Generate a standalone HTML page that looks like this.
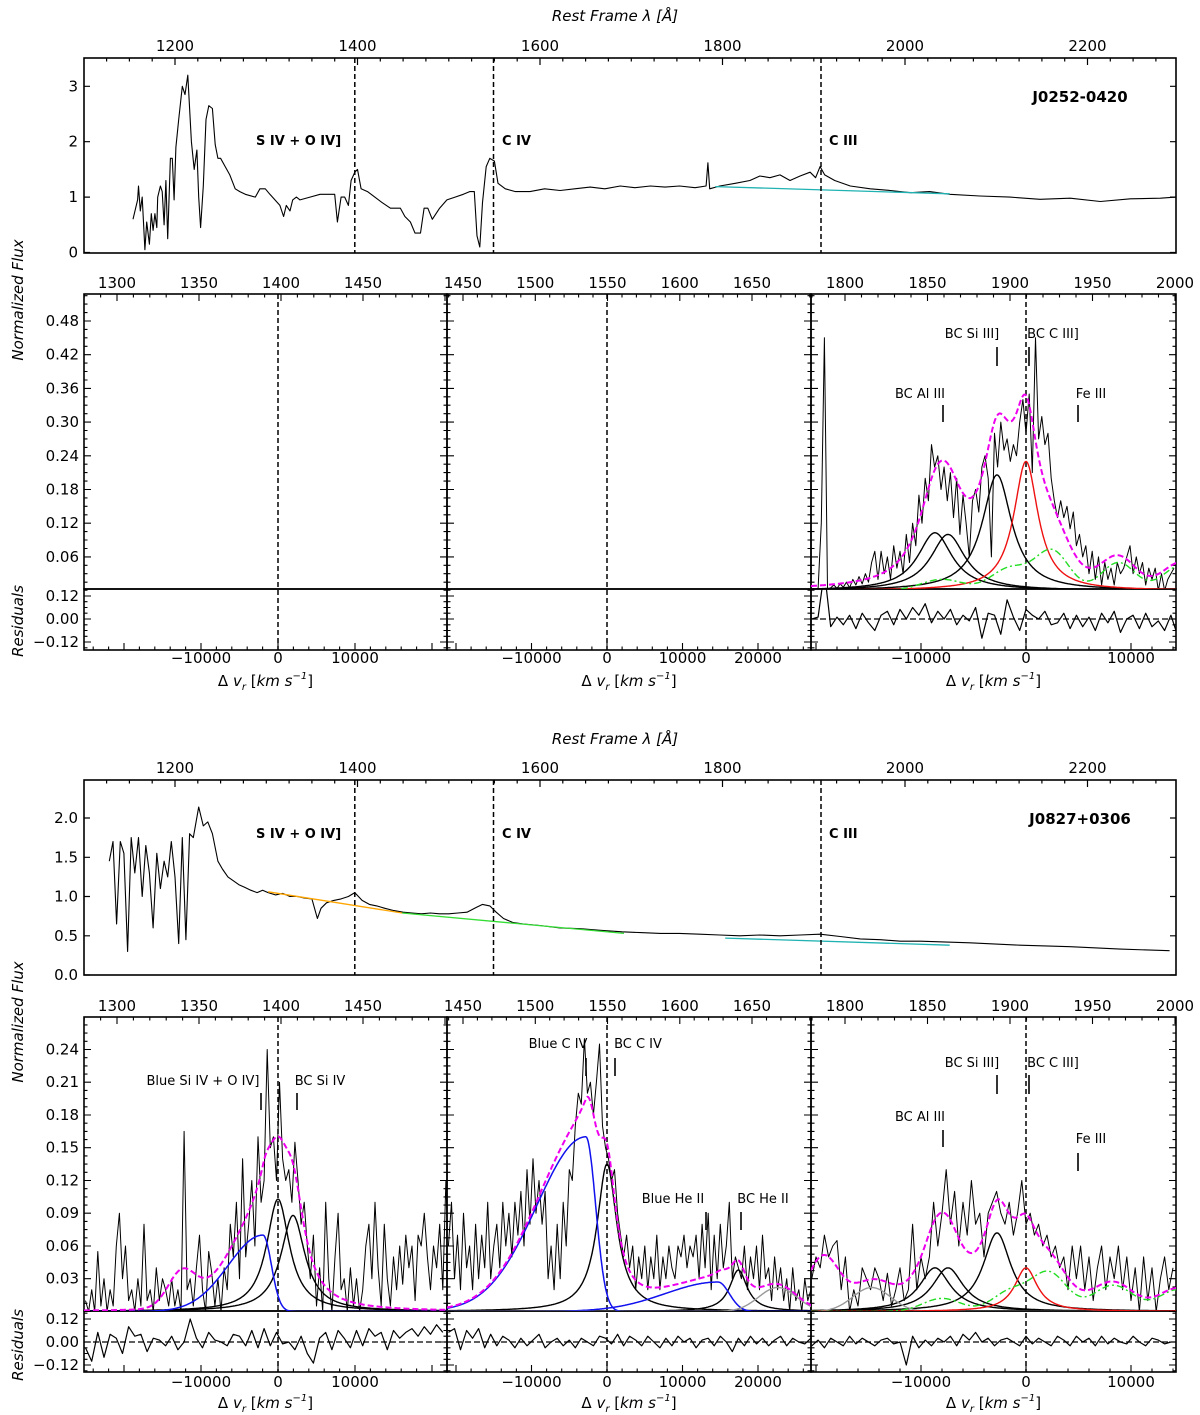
<!DOCTYPE html>
<html><head><meta charset="utf-8"><title>Spectral fits</title>
<style>
html,body{margin:0;padding:0;background:#fff;}
svg{display:block;font-family:"DejaVu Sans","Liberation Sans",sans-serif;}
text{fill:#000;}
</style></head>
<body>
<svg id="fig" width="1200" height="1415" viewBox="0 0 1200 1415" xmlns="http://www.w3.org/2000/svg">
<defs></defs>
<text x="615" y="21" font-size="15" font-style="italic" text-anchor="middle">Rest Frame λ [Å]</text>
<text x="615" y="744" font-size="15" font-style="italic" text-anchor="middle">Rest Frame λ [Å]</text>
<text transform="translate(23,300) rotate(-90)" font-size="15" font-style="italic" text-anchor="middle">Normalized Flux</text>
<text transform="translate(23,1022) rotate(-90)" font-size="15" font-style="italic" text-anchor="middle">Normalized Flux</text>
<text transform="translate(23,621) rotate(-90)" font-size="15" font-style="italic" text-anchor="middle">Residuals</text>
<text transform="translate(23,1345) rotate(-90)" font-size="15" font-style="italic" text-anchor="middle">Residuals</text>
<text x="1080" y="102" font-size="15" font-weight="bold" text-anchor="middle">J0252-0420</text>
<text x="1080" y="824" font-size="15" font-weight="bold" text-anchor="middle">J0827+0306</text>
<g font-size="13" font-weight="bold">
<text x="256" y="145">S IV + O IV]</text><text x="502" y="145">C IV</text><text x="829" y="145">C III</text></g>
<g font-size="13" font-weight="bold">
<text x="256" y="838">S IV + O IV]</text><text x="502" y="838">C IV</text><text x="829" y="838">C III</text></g>
<g id="layer"></g>
</svg>
<script>
// ---------- full spectrum data ----------
const lamA=[1154,1159,1160,1162,1164,1167,1169,1172,1174,1176,1178,1180,1181,1184,1186,1188,1190,1192,1195,1197,1199,1201,1204,1208,1211,1214,1218,1221,1224,1226,1228,1231,1234,1237,1241,1244,1247,1250,1255,1260,1266,1271,1277,1288,1293,1299,1304,1315,1319,1322,1326,1329,1333,1337,1348,1359,1364,1375,1378,1382,1386,1390,1393,1397,1400,1404,1411,1419,1427,1436,1441,1447,1452,1458,1463,1469,1473,1477,1482,1486,1490,1498,1507,1516,1523,1528,1531,1534,1537,1541,1545,1550,1554,1562,1573,1589,1605,1622,1638,1655,1671,1688,1704,1721,1737,1753,1770,1782,1784,1786,1797,1814,1830,1841,1852,1863,1874,1885,1896,1902,1907,1912,1923,1940,1962,1984,2006,2027,2049,2082,2115,2148,2181,2214,2247,2280,2297];
const fluxA=[0.6,0.95,1.2,0.75,1.0,0.05,0.55,0.15,0.7,0.4,0.7,0.45,1.0,1.2,1.1,0.5,1.3,0.25,1.7,1.7,0.95,1.9,2.4,3.0,2.85,3.2,2.0,1.5,1.85,1.0,0.45,1.2,2.4,2.65,2.6,1.95,1.7,1.7,1.55,1.4,1.15,1.1,1.05,1.0,1.15,1.15,1.05,0.85,0.65,0.85,0.75,0.95,1.0,0.95,1.0,1.05,1.05,1.05,0.55,1.0,1.0,0.85,1.3,1.45,1.5,1.15,1.1,1.0,0.9,0.8,0.8,0.8,0.65,0.55,0.35,0.35,0.8,0.8,0.6,0.7,0.8,0.95,1.0,1.05,1.1,1.1,0.3,0.1,0.9,1.55,1.7,1.65,1.25,1.15,1.1,1.1,1.15,1.12,1.15,1.18,1.15,1.2,1.17,1.2,1.18,1.2,1.17,1.2,1.62,1.15,1.2,1.25,1.3,1.38,1.35,1.4,1.3,1.38,1.45,1.35,1.55,1.4,1.3,1.2,1.15,1.12,1.08,1.1,1.05,1.02,1.0,0.96,0.98,0.92,0.97,0.98,1.0];
const contA_lam=[1792,2049];
const contA_flux=[1.19,1.06];
const lamB=[1128,1132,1136,1140,1144,1148,1152,1156,1160,1164,1168,1172,1176,1180,1184,1188,1192,1196,1200,1204,1208,1212,1216,1220,1226,1231,1236,1241,1247,1252,1258,1264,1270,1276,1283,1290,1296,1302,1310,1318,1326,1334,1342,1350,1356,1360,1366,1374,1382,1390,1397,1405,1413,1421,1430,1440,1450,1460,1470,1480,1490,1500,1510,1520,1530,1537,1545,1552,1560,1570,1582,1600,1622,1644,1666,1690,1710,1732,1753,1775,1797,1819,1841,1863,1885,1907,1929,1951,1973,1995,2017,2071,2126,2181,2236,2290];
const fluxB=[1.45,1.7,0.65,1.7,1.55,0.3,1.75,1.3,1.75,1.0,1.65,1.3,0.6,1.55,1.1,1.45,1.25,1.7,1.25,0.4,1.75,0.45,1.8,1.75,2.14,1.9,1.95,1.8,1.45,1.35,1.25,1.2,1.15,1.12,1.08,1.05,1.08,1.05,1.02,1.04,1.0,1.0,0.98,0.97,0.72,0.85,0.92,0.95,0.97,1.0,1.05,0.95,0.9,0.88,0.85,0.82,0.8,0.79,0.78,0.79,0.78,0.78,0.79,0.8,0.86,0.9,0.88,0.8,0.72,0.67,0.65,0.63,0.6,0.59,0.57,0.55,0.54,0.53,0.53,0.52,0.51,0.5,0.51,0.5,0.51,0.52,0.49,0.46,0.45,0.43,0.43,0.41,0.38,0.36,0.33,0.31];
const contB_orange_lam=[1302,1449];
const contB_orange_flux=[1.06,0.79];
const contB_green_lam=[1449,1692];
const contB_green_flux=[0.79,0.53];
const contB_cyan_lam=[1803,2049];
const contB_cyan_flux=[0.47,0.38];
const lineLam=[1397,1549,1908];
const fullTicksLam=[1200,1400,1600,1800,2000,2200];
const fullTicksA=[0,1,2,3];
const fullTicksB=[0.0,0.5,1.0,1.5,2.0];

// ---------- zoomed panel data (velocity km/s) ----------
const a3_vStart=-20400, a3_vStep=300;
const a3_flux=[0.003,0.002,0.004,0.12,0.45,0.003,0.005,0.01,0.004,0.012,0.006,0.015,0.005,0.02,0.01,0.025,0.012,0.03,0.015,0.05,
0.07,0.02,0.07,0.03,0.06,0.02,0.08,0.04,0.07,0.03,0.1,0.05,0.12,0.08,0.17,0.12,0.2,0.16,0.26,0.22,0.24,0.18,0.22,0.16,0.21,0.13,0.2,0.1,0.17,0.12,0.06,0.16,0.18,0.14,0.22,0.24,0.2,0.06,0.28,0.22,0.3,0.25,0.27,0.23,0.26,0.24,0.3,0.34,0.28,0.35,0.21,0.45,0.27,0.31,0.26,0.28,0.2,0.16,0.13,0.16,0.13,0.15,0.11,0.14,0.08,0.1,0.06,0.08,0.03,0.07,0.02,0.06,0.01,0.05,0.02,0.04,0.01,0.05,0.03,0.04,0.06,0.08,0.03,0.06,0.03,0.05,0.01,0.04,0.02,0.04,0.0,0.03,0.0,0.02,0.03,0.04];
const a3_rStart=-20400, a3_rStep=600;
const a3_resid=[0,0.01,0.25,-0.04,0.01,-0.03,0.02,-0.05,0.03,-0.02,-0.06,0.02,0.04,-0.03,0.05,0.0,0.06,0.02,0.08,-0.02,0.04,0.0,0.05,-0.03,0.02,-0.01,0.06,-0.1,0.03,0.02,-0.08,0.1,0.01,-0.06,0.05,0.02,0.0,0.04,-0.03,-0.02,0.03,-0.05,0.02,-0.04,0.01,-0.06,0.03,-0.02,0.04,-0.07,0.0,0.02,-0.05,0.03,-0.04,-0.01,-0.06,0.02,-0.08];
const a3_lorC=[-8670,-7430,-2760], a3_lorA=[0.103,0.10,0.206], a3_lorW=[4000,4000,3400];
const a3_redC=0, a3_redA=0.23, a3_redW=2800;
const a3_feC=[-8000,-1500,2500,8800,14800], a3_feA=[0.02,0.04,0.07,0.05,0.045], a3_feS=[2000,1800,1600,1600,1700];

const b1_vStart=-25000, b1_vStep=400;
const b1_flux=[0.01,0.0,0.02,0.0,0.055,0.005,0.03,0.0,0.02,0.005,0.06,0.09,0.03,0.06,0.01,0.02,0.0,0.03,0.005,0.08,0.01,0.02,0.0,0.04,0.01,0.03,0.02,0.005,0.03,0.005,0.02,0.0,0.165,0.02,0.03,0.005,0.04,0.07,0.02,0.0,0.055,0.035,0.005,0.03,0.0,0.04,0.02,0.08,0.05,0.1,0.03,0.14,0.05,0.08,0.12,0.06,0.16,0.1,0.12,0.24,0.15,0.16,0.12,0.21,0.14,0.12,0.13,0.1,0.155,0.12,0.08,0.1,0.06,0.03,0.07,0.005,0.04,0.0,0.1,0.03,0.0,0.05,0.09,0.02,0.03,0.0,0.04,0.005,0.03,0.0,0.02,0.06,0.08,0.03,0.1,0.04,0.005,0.08,0.03,0.005,0.05,0.02,0.06,0.025,0.07,0.04,0.06,0.01,0.07,0.06,0.09,0.05,0.02,0.06,0.04,0.08,0.02,0.12,0.03];
const b1_rStart=-25000, b1_rStep=800;
const b1_resid=[-0.03,-0.1,0.05,-0.08,0.04,0.02,-0.06,0.08,0.03,0.04,-0.05,0.02,0.01,-0.02,0.03,-0.04,0.0,0.12,0.02,-0.03,0.05,0.01,0.0,-0.02,0.04,0.03,-0.02,0.06,-0.03,0.07,-0.02,0.05,-0.01,0.0,-0.04,0.03,-0.06,-0.11,0.02,0.05,-0.04,0.06,0.02,-0.03,0.06,-0.02,0.07,0.03,0.05,-0.04,0.06,0.02,0.05,0.07,0.03,0.08,0.04,0.09,0.05];
const b1_blueC=-1950, b1_blueA=0.07, b1_blueSL=4500, b1_blueSR=1100;
const b1_lorC=[0,1950], b1_lorA=[0.103,0.088], b1_lorW=[3600,3800];
const b1_extraC=-12500, b1_extraA=0.031, b1_extraS=1800;

const b2_vStart=-21000, b2_vStep=400;
const b2_flux=[0.06,0.1,0.03,0.07,0.02,0.09,0.04,0.06,0.02,0.08,0.03,0.07,0.04,0.1,0.03,0.06,0.08,0.04,0.1,0.06,0.09,0.05,0.1,0.07,0.11,0.06,0.13,0.08,0.14,0.09,0.12,0.08,0.11,0.03,0.06,0.02,0.08,0.03,0.1,0.06,0.13,0.12,0.17,0.2,0.19,0.25,0.2,0.21,0.18,0.21,0.245,0.17,0.15,0.14,0.12,0.13,0.09,0.07,0.05,0.07,0.04,0.06,0.02,0.05,0.03,0.06,0.02,0.05,0.03,0.07,0.02,0.05,0.03,0.06,0.04,0.03,0.06,0.05,0.07,0.04,0.06,0.05,0.07,0.03,0.08,0.04,0.09,0.02,0.07,0.03,0.08,0.04,0.06,0.1,0.03,0.05,0.04,0.03,0.06,0.02,0.05,0.03,0.06,0.02,0.07,0.03,0.04,0.01,0.05,0.02,0.04,0.01,0.03,0.0,0.04,0.01,0.02,0.0,0.03,0.01,0.02];
const b2_rStart=-21000, b2_rStep=800;
const b2_resid=[0.05,0.07,-0.04,0.06,0.02,0.07,-0.03,0.04,-0.02,0.03,0.01,-0.03,0.02,-0.02,0.01,0.04,-0.03,0.0,0.02,-0.02,0.01,-0.03,0.02,0.0,-0.02,0.03,0.02,-0.01,0.04,-0.02,0.03,0.01,-0.02,0.03,0.0,-0.03,0.02,-0.02,0.03,0.0,0.02,-0.03,0.01,0.02,-0.02,0.03,0.0,-0.05,0.02,-0.02,0.03,-0.01,0.02,-0.02,0.01,0.03,-0.02,0.02,0.0,-0.01,0.02];
const b2_blueC=[-2800,14700], b2_blueA=[0.16,0.027], b2_blueSL=[6500,7000], b2_blueSR=[1300,1500];
const b2_lorC=[0,17400], b2_lorA=[0.135,0.038], b2_lorW=[3200,2800];
const b2_grayC=22600, b2_grayA=0.022, b2_grayS=2500;

const b3_vStart=-20400, b3_vStep=400;
const b3_flux=[0.03,0.05,0.04,0.07,0.05,0.06,0.065,0.02,0.05,0.0,0.02,0.005,0.04,0.03,0.02,0.04,0.03,0.01,0.035,0.005,0.02,0.04,0.01,0.02,0.08,0.02,0.05,0.03,0.05,0.1,0.06,0.09,0.13,0.08,0.11,0.06,0.1,0.07,0.12,0.08,0.09,0.05,0.09,0.1,0.11,0.09,0.08,0.1,0.07,0.09,0.12,0.08,0.09,0.07,0.08,0.06,0.07,0.05,0.06,0.04,0.05,0.02,0.06,0.03,0.06,0.02,0.05,0.01,0.04,0.06,0.02,0.05,0.03,0.06,0.02,0.05,0.01,0.04,0.0,0.05,0.01,0.04,0.0,0.03,0.05,0.02,0.04];
const b3_rStart=-20400, b3_rStep=600;
const b3_resid=[-0.02,0.01,-0.03,0.02,0.0,-0.02,0.03,-0.01,0.02,0.0,-0.02,0.01,0.02,-0.01,0.0,-0.12,0.03,-0.03,0.01,-0.02,0.02,0.0,0.03,-0.02,0.04,0.01,0.05,0.0,0.02,-0.02,0.01,0.02,0.0,-0.02,0.03,-0.01,0.02,0.0,-0.02,0.03,0.01,-0.02,0.03,0.0,0.02,-0.02,0.03,-0.01,0.02,0.0,-0.01,0.03,0.0,-0.02,0.02,0.01,-0.01,0.0];
const b3_lorC=[-8670,-7430,-2760], b3_lorA=[0.04,0.04,0.072], b3_lorW=[3600,3600,3200];
const b3_redC=0, b3_redA=0.04, b3_redW=2600;
const b3_feC=[-8000,-1500,2200,8300,14500], b3_feA=[0.012,0.018,0.035,0.024,0.02], b3_feS=[1800,1700,1700,1900,1800];
const b3_grayC=-14700, b3_grayA=0.022, b3_grayS=1800;
const b3_extraC=-19300, b3_extraA=0.048, b3_extraS=1500;

const velTicks=[-10000,0,10000,20000];
const residTicks=[0.12,0,-0.12];

// ---------- helpers ----------
const NS="http://www.w3.org/2000/svg";
const layer=document.getElementById('layer');
function mk(tag,parent){const e=document.createElementNS(NS,tag);(parent||layer).appendChild(e);return e;}
function lorentz(v,c,a,w){const t=(v-c)/(w/2);return a/(1+t*t);}
function gauss(v,c,a,s){const t=(v-c)/s;return a*Math.exp(-0.5*t*t);}
function agauss(v,c,a,sl,sr){return gauss(v,c,a,v<c?sl:sr);}
function pathFrom(xs,ys,sx,sy){let d='';for(let i=0;i<xs.length;i++){d+=(i?'L':'M')+sx(xs[i]).toFixed(1)+','+sy(ys[i]).toFixed(1);}return d;}
function grid(start,step,n){const a=[];for(let i=0;i<n;i++)a.push(start+i*step);return a;}
function fmt2(v){return (v<0?'\u2212':'')+Math.abs(v).toFixed(2);}
function fmtInt(v){return (v<0?'\u2212':'')+Math.abs(v);}
let clipN=0;
function clipRect(x,y,w,h){const id='cl'+(clipN++);const cp=mk('clipPath',document.querySelector('defs'));cp.setAttribute('id',id);const r=mk('rect',cp);r.setAttribute('x',x);r.setAttribute('y',y);r.setAttribute('width',w);r.setAttribute('height',h);return id;}
function addPath(d,stroke,sw,name,clip,dash){
  const p=mk('path');p.setAttribute('d',d);p.setAttribute('fill','none');p.setAttribute('stroke',stroke);p.setAttribute('stroke-width',sw);p.setAttribute('stroke-linejoin','round');
  if(dash)p.setAttribute('stroke-dasharray',dash);
  if(clip)p.setAttribute('clip-path','url(#'+clip+')');
  
  
  return p;
}
function addText(x,y,s,name,size,anchor){
  const t=mk('text');t.setAttribute('x',x);t.setAttribute('y',y);t.setAttribute('font-size',size||14);t.setAttribute('text-anchor',anchor||'middle');t.textContent=s;
  
  
  return t;
}
function frame(x0,y0,x1,y1,name){
  const r=mk('rect');r.setAttribute('x',x0);r.setAttribute('y',y0);r.setAttribute('width',x1-x0);r.setAttribute('height',y1-y0);r.setAttribute('fill','none');r.setAttribute('stroke','#000');r.setAttribute('stroke-width',1.6);
  
  
}
function xTicks(sx,lo,hi,step,y,len,dir){let d='';for(let v=Math.ceil(lo/step)*step;v<=hi+1e-9;v+=step){const x=sx(v);d+='M'+x.toFixed(1)+','+y+'v'+(dir*len);}return d;}
function yTicks(sy,lo,hi,step,x,len,dir,ylo,yhi){let d='';const n0=Math.ceil(lo/step-1e-9),n1=Math.floor(hi/step+1e-9);for(let k=n0;k<=n1;k++){const y=sy(k*step);if(y<ylo-0.5||y>yhi+0.5)continue;d+='M'+x+','+y.toFixed(1)+'h'+(dir*len);}return d;}

// ---------- full spectrum panels ----------
const xL=l=>175+(l-1200)*0.9125;
function fullPanel(tag,y0,y1,sy,fmax,ticks,lam,flux,conts){
  const clip=clipRect(84,y0,1092,y1-y0);
  addPath(pathFrom(lam,flux,xL,sy),'#000',1.1,'spectrum-'+tag,clip);
  conts.forEach(c=>addPath(pathFrom(c[0],c[1],xL,sy),c[2],1.3,'continuum-'+c[3]+'-'+tag,clip));
  lineLam.forEach((l,i)=>addPath('M'+xL(l).toFixed(1)+','+y0+'V'+y1,'#000',1.5,'line-marker-'+i+'-'+tag,null,'5,3'));
  frame(84,y0,1176,y1,'full-spectrum-frame-'+tag);
  let d=xTicks(xL,1110,2290,200,y0,7,1)+xTicks(xL,1110,2290,25,y0,3.5,1);
  d+=yTicks(sy,0,fmax,ticks[1]-ticks[0],84,6,1,y0,y1)+yTicks(sy,0,fmax,ticks[1]-ticks[0],1176,6,-1,y0,y1);
  addPath(d,'#000',1.2,'full-spectrum-ticks-'+tag);
  fullTicksLam.forEach(l=>addText(xL(l),y0-7,String(l),'top-tick-label-'+l+'-'+tag,15));
  ticks.forEach(t=>addText(78,sy(t)+5,tag==='a'?String(t):t.toFixed(1),'y-tick-label-'+tag,15,'end'));
}
const syA=f=>252.5-f*55.4;
const syB=f=>975-f*78.5;
fullPanel('a',58,253,syA,3.5,fullTicksA,lamA,fluxA,[[contA_lam,contA_flux,'#20b2b2','cyan']]);
fullPanel('b',780,975,syB,2.48,fullTicksB,lamB,fluxB,[[contB_orange_lam,contB_orange_flux,'#ffa500','orange'],[contB_green_lam,contB_green_flux,'#33dd33','green'],[contB_cyan_lam,contB_cyan_flux,'#20b2b2','cyan']]);

// ---------- zoomed panels ----------
const panelsX=[{x0:84,x1:447,v0:278,pv:0.0077,l0:1300,lx:117,pl:1.64,lmin:1280,lmax:1500},
               {x0:447,x1:811,v0:607,pv:0.00755,l0:1450,lx:463,pl:1.445,lmin:1440,lmax:1690},
               {x0:811,x1:1176,v0:1026,pv:0.0105,l0:1800,lx:845,pl:1.65,lmin:1780,lmax:2000}];
const figs={a:{top:294,zero:590.6,ppu:561.7,mBot:589,rBot:650,rZero:619,major:0.06,labTop:283,labBot:663,xlab:686},
            b:{top:1017,zero:1311.5,ppu:1091.7,mBot:1311,rBot:1372,rZero:1342,major:0.03,labTop:1006,labBot:1387,xlab:1408}};
function setupPanel(tag,pi,hasData){
  const P=panelsX[pi],F=figs[tag];
  const sx=v=>P.v0+v*P.pv;
  const sy=f=>F.zero-f*F.ppu;
  const sr=r=>F.rZero-r*191.7;
  const vlo=(P.x0-P.v0)/P.pv, vhi=(P.x1-P.v0)/P.pv;
  const lx=l=>P.lx+(l-P.l0)*P.pl;
  const ymax=(F.zero-F.top)/F.ppu;
  const mainClip=clipRect(P.x0,F.top,P.x1-P.x0,F.mBot-F.top);
  const resClip=clipRect(P.x0,F.mBot,P.x1-P.x0,F.rBot-F.mBot);
  frame(P.x0,F.top,P.x1,F.mBot,'main-frame-'+tag+'-'+(pi+1));
  frame(P.x0,F.mBot,P.x1,F.rBot,'residual-frame-'+tag+'-'+(pi+1));
  let d='';
  d+=xTicks(lx,P.lmin,P.lmax,50,F.top,7,1)+xTicks(lx,P.lmin,P.lmax,10,F.top,3.5,1);
  d+=xTicks(sx,vlo,vhi,10000,F.rBot,7,-1)+xTicks(sx,vlo,vhi,2000,F.rBot,3.5,-1);
  d+=yTicks(sy,0,ymax,F.major,P.x0,7,1,F.top,F.mBot)+yTicks(sy,0,ymax,F.major,P.x1,7,-1,F.top,F.mBot);
  d+=yTicks(sy,0,ymax,F.major/4,P.x0,3.5,1,F.top,F.mBot)+yTicks(sy,0,ymax,F.major/4,P.x1,3.5,-1,F.top,F.mBot);
  d+=yTicks(sr,-0.15,0.15,0.12,P.x0,7,1,F.mBot,F.rBot)+yTicks(sr,-0.15,0.15,0.12,P.x1,7,-1,F.mBot,F.rBot);
  d+=yTicks(sr,-0.15,0.15,0.03,P.x0,3.5,1,F.mBot,F.rBot)+yTicks(sr,-0.15,0.15,0.03,P.x1,3.5,-1,F.mBot,F.rBot);
  addPath(d,'#000',1.1,'panel-ticks-'+tag+'-'+(pi+1));
  for(let l=Math.ceil(P.lmin/50)*50;l<=P.lmax;l+=50){const x=lx(l);if(x>P.x0-5&&x<P.x1+5&&!(pi===0&&l===1500))addText(x,F.labTop+5,String(l),'wavelength-tick-label-'+tag+'-'+(pi+1),15);}
  velTicks.forEach(v=>{const x=sx(v);if(x>P.x0+25&&x<P.x1-30)addText(x,F.labBot,fmtInt(v),'velocity-tick-label-'+tag+'-'+(pi+1),15);});
  if(pi===0){
    for(let k=1;k*F.major<=ymax+1e-9;k++){const v=k*F.major;addText(P.x0-5,sy(v)+5,v.toFixed(2),'y-tick-label-'+tag,15,'end');}
    residTicks.forEach(r=>addText(P.x0-5,sr(r)+5,fmt2(r),'residual-tick-label-'+tag,15,'end'));
  }
  const t=mk('text');t.setAttribute('x',(P.x0+P.x1)/2);t.setAttribute('y',F.xlab);t.setAttribute('font-size',15);t.setAttribute('text-anchor','middle');
  t.innerHTML='Δ <tspan font-style="italic">v</tspan><tspan font-style="italic" font-size="10" dy="4">r</tspan><tspan dy="-4"> [</tspan><tspan font-style="italic">km s</tspan><tspan font-style="italic" font-size="10" dy="-7">−1</tspan><tspan dy="7">]</tspan>';
  
  
  addPath('M'+sx(0).toFixed(1)+','+F.top+'V'+F.rBot,'#000',1.5,'zero-velocity-line-'+tag+'-'+(pi+1),null,'5,3');
  if(hasData)addPath('M'+P.x0+','+F.rZero+'H'+P.x1,'#000',1.3,'residual-zero-line-'+tag+'-'+(pi+1),null,'6,3');
  return {sx,sy,sr,vlo,vhi,mainClip,resClip};
}
function drawData(S,tag,pi,vStart,vStep,flux,rStart,rStep,resid){
  const vs=grid(vStart,vStep,flux.length);
  addPath(pathFrom(vs,flux,S.sx,S.sy),'#000',1.0,'observed-spectrum-'+tag+'-'+(pi+1),S.mainClip);
  const rv=grid(rStart,rStep,resid.length);
  addPath(pathFrom(rv,resid,S.sx,S.sr),'#000',1.2,'residuals-'+tag+'-'+(pi+1),S.resClip);
}

// Figure A panels
const A1=setupPanel('a',0,false);
const A2=setupPanel('a',1,false);
const A3=setupPanel('a',2,true);
drawData(A3,'a',2,a3_vStart,a3_vStep,a3_flux,a3_rStart,a3_rStep,a3_resid);
(function(){
  const S=A3;const vs=grid(Math.floor(S.vlo),100,Math.ceil((S.vhi-S.vlo)/100)+1);
  const fe=vs.map(v=>a3_feC.reduce((s,c,i)=>s+gauss(v,c,a3_feA[i],a3_feS[i]),0));
  const red=vs.map(v=>lorentz(v,a3_redC,a3_redA,a3_redW));
  const lors=a3_lorC.map((c,i)=>vs.map(v=>lorentz(v,c,a3_lorA[i],a3_lorW[i])));
  const tot=vs.map((v,k)=>fe[k]+red[k]+lors.reduce((s,L)=>s+L[k],0));
  lors.forEach((L,i)=>addPath(pathFrom(vs,L,S.sx,S.sy),'#000',1.4,'black-component-'+(i+1)+'-a',S.mainClip));
  addPath(pathFrom(vs,red,S.sx,S.sy),'#ee1111',1.4,'bc-c-iii-component-a',S.mainClip);
  addPath(pathFrom(vs,fe,S.sx,S.sy),'#22dd22',1.4,'fe-iii-template-a',S.mainClip,'7,3,2,3');
  addPath(pathFrom(vs,tot,S.sx,S.sy),'#ee00ee',2,'total-fit-a',S.mainClip,'6,3');
})();

// Figure B panels
const B1=setupPanel('b',0,true);
const B2=setupPanel('b',1,true);
const B3=setupPanel('b',2,true);
drawData(B1,'b',0,b1_vStart,b1_vStep,b1_flux,b1_rStart,b1_rStep,b1_resid);
drawData(B2,'b',1,b2_vStart,b2_vStep,b2_flux,b2_rStart,b2_rStep,b2_resid);
drawData(B3,'b',2,b3_vStart,b3_vStep,b3_flux,b3_rStart,b3_rStep,b3_resid);
(function(){
  const S=B1;const vs=grid(Math.floor(S.vlo),100,Math.ceil((S.vhi-S.vlo)/100)+1);
  const blue=vs.map(v=>agauss(v,b1_blueC,b1_blueA,b1_blueSL,b1_blueSR));
  const lors=b1_lorC.map((c,i)=>vs.map(v=>lorentz(v,c,b1_lorA[i],b1_lorW[i])));
  const ex=vs.map(v=>gauss(v,b1_extraC,b1_extraA,b1_extraS));
  const tot=vs.map((v,k)=>blue[k]+ex[k]+lors.reduce((s,L)=>s+L[k],0));
  lors.forEach((L,i)=>addPath(pathFrom(vs,L,S.sx,S.sy),'#000',1.4,'bc-si-iv-component-'+(i+1),S.mainClip));
  addPath(pathFrom(vs,blue,S.sx,S.sy),'#1111ee',1.5,'blue-si-iv-component',S.mainClip);
  addPath(pathFrom(vs,tot,S.sx,S.sy),'#ee00ee',2,'total-fit-si-iv',S.mainClip,'6,3');
})();
(function(){
  const S=B2;const vs=grid(Math.floor(S.vlo),100,Math.ceil((S.vhi-S.vlo)/100)+1);
  const blues=b2_blueC.map((c,i)=>vs.map(v=>agauss(v,c,b2_blueA[i],b2_blueSL[i],b2_blueSR[i])));
  const lors=b2_lorC.map((c,i)=>vs.map(v=>lorentz(v,c,b2_lorA[i],b2_lorW[i])));
  const gray=vs.map(v=>gauss(v,b2_grayC,b2_grayA,b2_grayS));
  const tot=vs.map((v,k)=>gray[k]+blues.reduce((s,L)=>s+L[k],0)+lors.reduce((s,L)=>s+L[k],0));
  lors.forEach((L,i)=>addPath(pathFrom(vs,L,S.sx,S.sy),'#000',1.4,'bc-component-civ-'+(i+1),S.mainClip));
  blues.forEach((L,i)=>addPath(pathFrom(vs,L,S.sx,S.sy),'#1111ee',1.5,'blue-component-civ-'+(i+1),S.mainClip));
  addPath(pathFrom(vs,gray,S.sx,S.sy),'#999',1.4,'gray-component-civ',S.mainClip);
  addPath(pathFrom(vs,tot,S.sx,S.sy),'#ee00ee',2,'total-fit-civ',S.mainClip,'6,3');
})();
(function(){
  const S=B3;const vs=grid(Math.floor(S.vlo),100,Math.ceil((S.vhi-S.vlo)/100)+1);
  const fe=vs.map(v=>b3_feC.reduce((s,c,i)=>s+gauss(v,c,b3_feA[i],b3_feS[i]),0));
  const red=vs.map(v=>lorentz(v,b3_redC,b3_redA,b3_redW));
  const lors=b3_lorC.map((c,i)=>vs.map(v=>lorentz(v,c,b3_lorA[i],b3_lorW[i])));
  const gray=vs.map(v=>gauss(v,b3_grayC,b3_grayA,b3_grayS));
  const ex=vs.map(v=>gauss(v,b3_extraC,b3_extraA,b3_extraS));
  const tot=vs.map((v,k)=>fe[k]+red[k]+gray[k]+ex[k]+lors.reduce((s,L)=>s+L[k],0));
  lors.forEach((L,i)=>addPath(pathFrom(vs,L,S.sx,S.sy),'#000',1.4,'black-component-'+(i+1)+'-b',S.mainClip));
  addPath(pathFrom(vs,gray,S.sx,S.sy),'#999',1.4,'gray-component-ciii',S.mainClip);
  addPath(pathFrom(vs,red,S.sx,S.sy),'#ee1111',1.4,'bc-c-iii-component-b',S.mainClip);
  addPath(pathFrom(vs,fe,S.sx,S.sy),'#22dd22',1.4,'fe-iii-template-b',S.mainClip,'7,3,2,3');
  addPath(pathFrom(vs,tot,S.sx,S.sy),'#ee00ee',2,'total-fit-ciii-b',S.mainClip,'6,3');
})();

// ---------- annotations ----------
function annot(x,ty,s,tx,t0,t1,name){
  addText(tx,ty,s,name,13);
  addPath('M'+x+','+t0+'V'+t1,'#000',1.6,name+'-marker');
}
annot(943,398,'BC Al III',920,405,422,'label-bc-al-iii-a');
annot(997,338,'BC Si III]',972,347,366,'label-bc-si-iii-a');
annot(1029,338,'BC C III]',1053,347,366,'label-bc-c-iii-a');
annot(1078,398,'Fe III',1091,405,422,'label-fe-iii-a');
annot(943,1121,'BC Al III',920,1130,1147,'label-bc-al-iii-b');
annot(997,1067,'BC Si III]',972,1075,1094,'label-bc-si-iii-b');
annot(1029,1067,'BC C III]',1053,1075,1094,'label-bc-c-iii-b');
annot(1078,1143,'Fe III',1091,1153,1171,'label-fe-iii-b');
annot(261,1085,'Blue Si IV + O IV]',203,1093,1110,'label-blue-si-iv');
annot(297,1085,'BC Si IV',320,1093,1110,'label-bc-si-iv');
annot(586,1048,'Blue C IV',558,1058,1076,'label-blue-c-iv');
annot(615,1048,'BC C IV',638,1058,1076,'label-bc-c-iv');
annot(706,1203,'Blue He II',673,1212,1230,'label-blue-he-ii');
annot(741,1203,'BC He II',763,1212,1230,'label-bc-he-ii');
</script>
</body></html>
